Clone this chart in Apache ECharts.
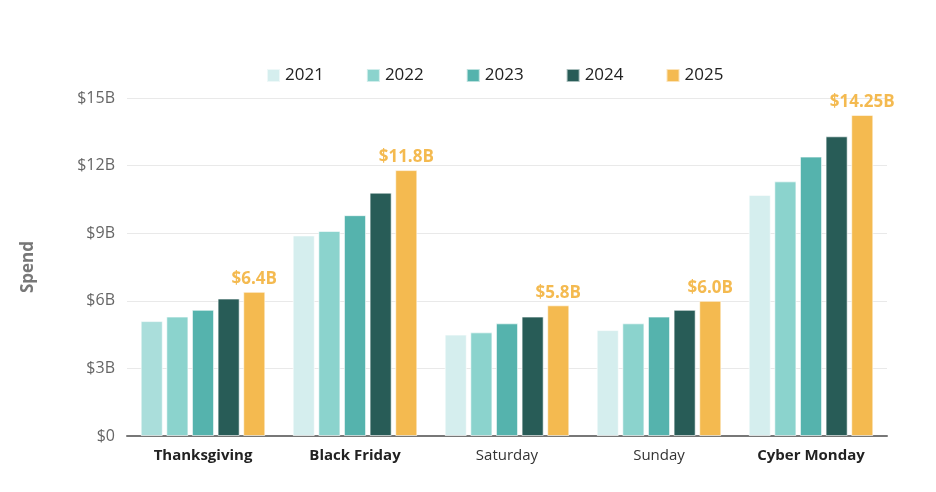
<!DOCTYPE html>
<html><head><meta charset="utf-8">
<script src="https://cdn.jsdelivr.net/npm/echarts@6/dist/echarts.min.js"></script>
<style>html,body{margin:0;padding:0;background:#fff}#c{width:936px;height:492px}</style>
</head><body><div id="c"></div>
<script>
const categories = ['Thanksgiving', 'Black Friday', 'Saturday', 'Sunday', 'Cyber Monday'];
const boldCategories = ['Thanksgiving', 'Black Friday', 'Cyber Monday'];
const years = ['2021', '2022', '2023', '2024', '2025'];
const v2021 = [5.1, 8.9, 4.5, 4.7, 10.7];
const v2022 = [5.3, 9.1, 4.6, 5.0, 11.3];
const v2023 = [5.6, 9.8, 5.0, 5.3, 12.4];
const v2024 = [6.1, 10.8, 5.3, 5.6, 13.3];
const v2025 = [6.4, 11.8, 5.8, 6.0, 14.25];
const labels2025 = ['$6.4B', '$11.8B', '$5.8B', '$6.0B', '$14.25B'];
const yTicks = [0, 3, 6, 9, 12, 15];

const colors = ['#d5eeee', '#8bd3cd', '#55b3ad', '#285c57', '#f4ba50'];
const values = [v2021, v2022, v2023, v2024, v2025];
const FONT = '"Open Sans", "Noto Sans", sans-serif';

const chart = echarts.init(document.getElementById('c'));
const series = years.map((y, i) => ({
  name: y,
  type: 'bar',
  data: values[i].map((v, j) => (i === 0 && j === 0) ? { value: v, itemStyle: { color: '#aadedb' } } : v),
  barGap: '16%',
  barCategoryGap: '18%',
  itemStyle: { color: colors[i], borderColor: 'rgba(255,255,255,0.6)', borderWidth: 1 },
  label: i === 4 ? {
    show: true, position: 'top', distance: 4,
    formatter: p => labels2025[p.dataIndex],
    color: '#f4ba50', fontSize: 17, fontWeight: 'bold', fontFamily: FONT
  } : { show: false },
  emphasis: { disabled: true }
}));

chart.setOption({
  animation: false,
  color: colors,
  textStyle: { fontFamily: FONT },
  legend: {
    top: 62, left: 261, itemWidth: 13, itemHeight: 13, itemGap: 42,
    icon: 'rect',
    textStyle: { fontSize: 17, color: '#222', fontFamily: FONT },
    data: years
  },
  grid: { left: 127, right: 49, top: 98, bottom: 56, containLabel: false },
  xAxis: {
    type: 'category', data: categories,
    axisLine: { lineStyle: { color: '#777', width: 2 } },
    axisTick: { show: false },
    axisLabel: {
      interval: 0,
      margin: 12, fontSize: 15, color: '#222',
      formatter: v => boldCategories.includes(v) ? '{b|' + v + '}' : '{n|' + v + '}',
      rich: {
        b: { fontWeight: 'bold', fontSize: 15, color: '#222', fontFamily: FONT },
        n: { fontSize: 15, color: '#333', fontFamily: FONT }
      }
    }
  },
  yAxis: {
    type: 'value', min: 0, max: 15, interval: 3,
    name: 'Spend', nameLocation: 'middle', nameGap: 90, nameRotate: 90,
    nameTextStyle: { fontSize: 17, fontWeight: 'bold', color: '#777', fontFamily: FONT },
    axisLabel: {
      fontSize: 16, color: '#666', margin: 12,
      formatter: v => yTicks.includes(v) ? (v === 0 ? '$0' : '$' + v + 'B') : ''
    },
    splitLine: { lineStyle: { color: '#e9e9e9', width: 1 } },
    axisLine: { show: false }, axisTick: { show: false }
  },
  series
});
</script></body></html>
